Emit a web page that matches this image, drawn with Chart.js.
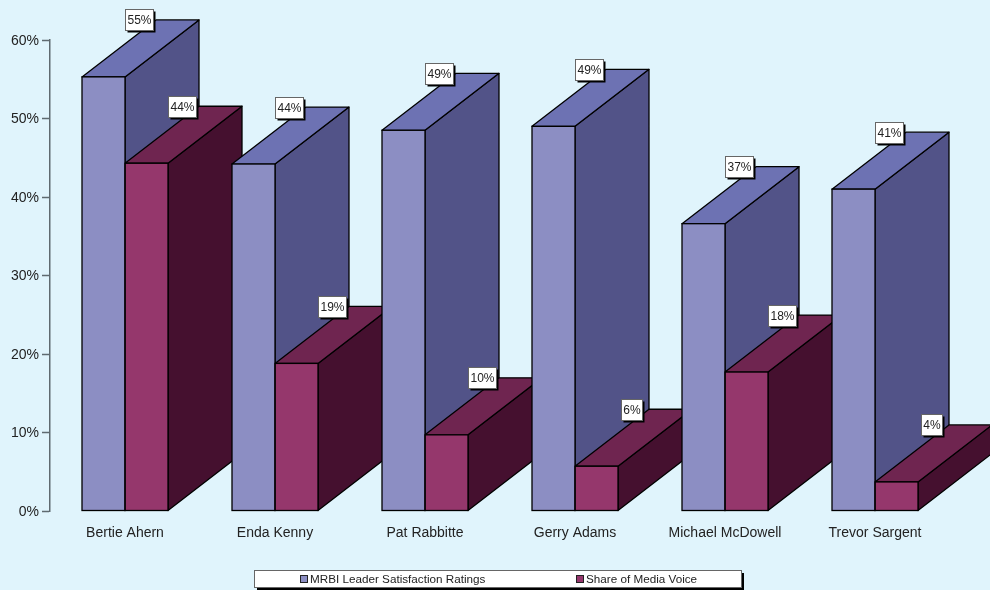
<!DOCTYPE html>
<html lang="en">
<head>
<meta charset="UTF-8">
<title>Leader Satisfaction and Media Voice</title>
<script src="https://cdn.jsdelivr.net/npm/chart.js"></script>
<style>
    html, body { margin: 0; padding: 0; background: #e0f4fc; overflow: hidden; }
    canvas { display: block; }
</style>
</head>
<body>
<canvas id="chart" width="990" height="590"></canvas>
<script>
const leaders = ['Bertie Ahern', 'Enda Kenny', 'Pat Rabbitte', 'Gerry Adams', 'Michael McDowell', 'Trevor Sargent'];
const satisfaction = [55.3, 44.2, 48.5, 49.0, 36.6, 41.0];
const mediaVoice = [44.3, 18.8, 9.7, 5.7, 17.7, 3.7];
const seriesNames = ['MRBI Leader Satisfaction Ratings', 'Share of Media Voice'];

const FONT = '"Liberation Sans", Arial, sans-serif';
const TEXT = '#222';
const DEPTH_X = 74;
const DEPTH_Y = 57;

// front, top and side shades for each series
const shades = [
    { front: '#8c8ec3', top: '#6d72b3', side: '#525388' },
    { front: '#95376c', top: '#6f2550', side: '#45102f' }
];

function poly(ctx, pts, fill) {
    ctx.beginPath();
    pts.forEach((p, i) => i ? ctx.lineTo(p[0], p[1]) : ctx.moveTo(p[0], p[1]));
    ctx.closePath();
    ctx.fillStyle = fill;
    ctx.fill();
    ctx.stroke();
}

// side and top faces go down first, left to right, so the bar fronts sit over them
const extrude = {
    id: 'extrude',
    beforeDatasetsDraw(chart) {
        const ctx = chart.ctx;
        ctx.save();
        ctx.strokeStyle = '#000';
        ctx.lineWidth = 1.3;
        ctx.lineJoin = 'round';
        leaders.forEach((_, i) => {
            shades.forEach((shade, d) => {
                const bar = chart.getDatasetMeta(d).data[i];
                const l = bar.x - bar.width / 2, r = bar.x + bar.width / 2;
                poly(ctx, [[r, bar.base], [r + DEPTH_X, bar.base - DEPTH_Y], [r + DEPTH_X, bar.y - DEPTH_Y], [r, bar.y]], shade.side);
                poly(ctx, [[l, bar.y], [l + DEPTH_X, bar.y - DEPTH_Y], [r + DEPTH_X, bar.y - DEPTH_Y], [r, bar.y]], shade.top);
            });
        });
        ctx.restore();
    },
    afterDatasetsDraw(chart) {
        const ctx = chart.ctx;
        ctx.save();
        ctx.strokeStyle = '#000';
        ctx.lineWidth = 1.3;
        shades.forEach((_, d) => {
            chart.getDatasetMeta(d).data.forEach(bar => {
                ctx.strokeRect(bar.x - bar.width / 2, bar.y, bar.width, bar.base - bar.y);
            });
        });
        // value flags, centred on the back edge of each top face
        ctx.font = '12px ' + FONT;
        ctx.textAlign = 'center';
        ctx.textBaseline = 'middle';
        shades.forEach((_, d) => {
            const values = chart.data.datasets[d].data;
            chart.getDatasetMeta(d).data.forEach((bar, i) => {
                const text = Math.round(values[i]) + '%';
                const w = Math.round(ctx.measureText(text).width) + 4;
                const left = Math.round(bar.x + 35 - w / 2) + 0.5;
                const top = Math.round(bar.y - DEPTH_Y - 10.5) + 0.5;
                ctx.fillStyle = '#000';
                ctx.fillRect(left + 2, top + 2, w, 21);
                ctx.fillStyle = '#fff';
                ctx.fillRect(left, top, w, 21);
                ctx.strokeStyle = '#666';
                ctx.lineWidth = 1;
                ctx.strokeRect(left, top, w, 21);
                ctx.fillStyle = TEXT;
                ctx.fillText(text, left + w / 2, top + 11);
            });
        });
        ctx.restore();
    }
};

// boxed legend strip under the chart
const legendStrip = {
    id: 'legendStrip',
    afterDraw(chart) {
        const ctx = chart.ctx;
        ctx.save();
        ctx.fillStyle = '#000';
        ctx.fillRect(257, 573, 487, 17);
        ctx.fillStyle = '#fff';
        ctx.fillRect(254.5, 570.5, 487, 17);
        ctx.strokeStyle = '#666';
        ctx.lineWidth = 1;
        ctx.strokeRect(254.5, 570.5, 487, 17);
        ctx.font = '11.7px ' + FONT;
        ctx.textAlign = 'left';
        ctx.textBaseline = 'middle';
        [300, 576].forEach((x, d) => {
            ctx.fillStyle = shades[d].front;
            ctx.strokeStyle = '#222';
            ctx.fillRect(x + 0.5, 575.5, 7, 7);
            ctx.strokeRect(x + 0.5, 575.5, 7, 7);
            ctx.fillStyle = TEXT;
            ctx.fillText(seriesNames[d], x + 10, 580);
        });
        ctx.restore();
    }
};

new Chart(document.getElementById('chart'), {
    type: 'bar',
    data: {
        labels: leaders,
        datasets: [
            { label: seriesNames[0], data: satisfaction, backgroundColor: shades[0].front },
            { label: seriesNames[1], data: mediaVoice, backgroundColor: shades[1].front }
        ]
    },
    options: {
        responsive: false,
        animation: false,
        layout: { padding: { left: 0, right: 40, top: 40, bottom: 0 } },
        datasets: { bar: { categoryPercentage: 86 / 150, barPercentage: 1, borderWidth: 0 } },
        scales: {
            x: {
                afterFit(scale) { scale.height = 79; },
                border: { display: false },
                grid: { display: false },
                ticks: { font: { family: FONT, size: 14 }, color: TEXT, padding: 6, autoSkip: false, maxRotation: 0 }
            },
            y: {
                min: 0,
                max: 60,
                afterFit(scale) { scale.width = 50; },
                border: { color: '#5f6a70', width: 1.5 },
                grid: { drawOnChartArea: false, color: '#5f6a70', tickLength: 8, tickWidth: 1.5 },
                ticks: { stepSize: 10, font: { family: FONT, size: 14 }, color: TEXT, padding: 3, labelOffset: 1, callback: v => v + '%' }
            }
        },
        plugins: {
            legend: { display: false },
            tooltip: { enabled: false }
        }
    },
    plugins: [extrude, legendStrip]
});
</script>
</body>
</html>
